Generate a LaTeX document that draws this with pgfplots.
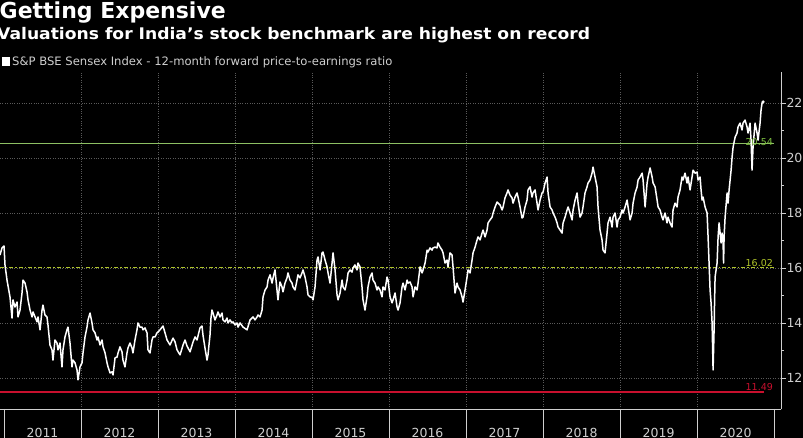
\documentclass[border=0pt]{standalone}
\usepackage{fontspec}
\setmainfont{DejaVu Sans}
\usepackage{graphicx}
\usepackage{pgfplots}
\pgfplotsset{compat=1.18}
\definecolor{gridc}{HTML}{5A5A5A}
\definecolor{axc}{HTML}{CFCFCF}
\definecolor{lblgreen}{HTML}{7FC241}
\definecolor{refgreen}{HTML}{8DBF63}
\definecolor{refyellow}{HTML}{AFC42A}
\definecolor{refred}{HTML}{C8102E}
\pgfplotstableread{
x y
2010.948 16.47
2010.974 16.73
2011.000 16.80
2011.013 16.11
2011.039 15.56
2011.078 14.94
2011.104 14.18
2011.117 14.84
2011.143 14.58
2011.169 14.76
2011.182 14.22
2011.208 14.47
2011.234 15.09
2011.247 15.56
2011.273 15.45
2011.299 15.13
2011.312 14.84
2011.338 14.47
2011.364 14.22
2011.377 14.40
2011.403 14.22
2011.429 14.04
2011.442 14.22
2011.468 13.75
2011.494 14.47
2011.506 14.65
2011.532 14.29
2011.558 14.22
2011.571 13.93
2011.597 13.20
2011.623 13.02
2011.636 12.65
2011.662 13.38
2011.688 13.27
2011.701 13.02
2011.727 13.27
2011.753 12.40
2011.766 13.02
2011.792 13.49
2011.818 13.75
2011.831 13.85
2011.857 13.27
2011.883 12.40
2011.896 12.65
2011.922 12.55
2011.948 12.29
2011.961 11.93
2011.987 12.40
2012.013 12.55
2012.026 12.91
2012.052 13.49
2012.078 13.85
2012.091 14.11
2012.117 14.36
2012.143 14.00
2012.156 13.75
2012.182 13.64
2012.208 13.38
2012.221 13.49
2012.247 13.20
2012.273 13.38
2012.286 13.13
2012.312 12.91
2012.338 12.55
2012.351 12.40
2012.377 12.18
2012.403 12.22
2012.416 12.11
2012.442 12.73
2012.468 12.76
2012.481 12.91
2012.506 13.13
2012.532 12.95
2012.545 12.65
2012.571 12.40
2012.597 12.91
2012.610 13.09
2012.636 13.27
2012.662 13.09
2012.675 12.91
2012.701 13.38
2012.727 13.75
2012.740 14.00
2012.766 13.85
2012.792 13.85
2012.805 13.75
2012.831 13.82
2012.857 13.64
2012.870 13.02
2012.896 12.91
2012.922 13.38
2012.935 13.49
2012.961 13.49
2012.987 13.64
2013.000 13.67
2013.026 13.75
2013.065 13.89
2013.091 13.64
2013.117 13.38
2013.156 13.20
2013.195 13.45
2013.221 13.31
2013.247 13.02
2013.286 12.84
2013.325 13.20
2013.351 13.38
2013.377 13.16
2013.416 12.95
2013.455 13.31
2013.481 13.49
2013.506 13.38
2013.545 13.82
2013.571 13.89
2013.584 13.56
2013.610 13.09
2013.636 12.65
2013.649 12.84
2013.675 13.56
2013.688 14.18
2013.701 14.47
2013.714 14.36
2013.740 14.11
2013.766 14.29
2013.779 14.40
2013.805 14.22
2013.831 14.36
2013.844 14.11
2013.870 14.04
2013.896 14.18
2013.909 14.00
2013.935 14.11
2013.961 14.00
2013.974 14.04
2014.000 13.93
2014.026 14.00
2014.039 13.85
2014.065 14.00
2014.104 13.85
2014.156 13.75
2014.195 14.11
2014.221 14.18
2014.234 14.22
2014.260 14.11
2014.286 14.22
2014.299 14.29
2014.325 14.22
2014.351 14.47
2014.364 14.95
2014.390 15.20
2014.416 15.31
2014.429 15.56
2014.455 15.75
2014.481 15.45
2014.494 15.64
2014.519 15.93
2014.545 15.20
2014.558 14.84
2014.584 15.49
2014.610 15.31
2014.623 15.13
2014.649 15.45
2014.675 15.64
2014.688 15.82
2014.714 15.56
2014.740 15.45
2014.753 15.31
2014.779 15.20
2014.805 15.56
2014.818 15.75
2014.844 15.64
2014.870 15.82
2014.883 15.93
2014.909 15.67
2014.935 15.31
2014.948 15.02
2014.974 14.95
2015.000 14.93
2015.013 14.84
2015.039 15.31
2015.065 16.29
2015.078 16.40
2015.104 15.93
2015.130 16.55
2015.143 16.58
2015.169 16.29
2015.195 16.04
2015.208 15.82
2015.234 15.45
2015.260 16.18
2015.273 16.55
2015.299 15.93
2015.325 15.02
2015.338 14.84
2015.364 15.09
2015.390 15.56
2015.403 15.31
2015.429 15.20
2015.455 15.56
2015.468 15.82
2015.494 15.93
2015.519 15.85
2015.532 16.00
2015.558 16.11
2015.584 15.93
2015.597 16.18
2015.623 16.04
2015.649 15.31
2015.662 14.84
2015.688 14.47
2015.714 14.95
2015.727 15.31
2015.753 15.67
2015.779 15.82
2015.792 15.56
2015.818 15.45
2015.844 15.20
2015.857 15.31
2015.883 15.20
2015.909 14.95
2015.922 15.31
2015.948 15.20
2015.974 15.67
2015.987 15.56
2016.013 14.95
2016.039 14.73
2016.052 14.84
2016.078 15.09
2016.104 14.58
2016.117 14.47
2016.143 14.73
2016.169 15.31
2016.182 15.45
2016.208 15.20
2016.234 15.56
2016.247 15.45
2016.273 15.49
2016.299 15.31
2016.312 14.95
2016.338 15.31
2016.364 15.20
2016.377 15.45
2016.403 16.04
2016.429 15.82
2016.442 15.93
2016.468 16.18
2016.494 16.65
2016.506 16.58
2016.532 16.73
2016.558 16.65
2016.571 16.73
2016.597 16.76
2016.623 16.73
2016.636 16.91
2016.662 16.76
2016.688 16.65
2016.701 16.55
2016.727 16.18
2016.753 16.29
2016.766 16.04
2016.792 16.55
2016.818 16.47
2016.831 16.04
2016.857 15.09
2016.883 15.45
2016.896 15.31
2016.922 15.20
2016.948 14.95
2016.961 14.76
2016.987 15.20
2017.013 15.67
2017.026 15.93
2017.052 15.82
2017.078 16.29
2017.091 16.55
2017.117 16.76
2017.143 17.02
2017.156 17.13
2017.182 17.02
2017.208 17.27
2017.221 17.38
2017.247 17.13
2017.273 17.38
2017.286 17.64
2017.312 17.75
2017.338 17.85
2017.351 18.00
2017.377 18.22
2017.403 18.40
2017.416 18.36
2017.442 18.29
2017.468 18.11
2017.481 18.22
2017.506 18.55
2017.532 18.73
2017.545 18.84
2017.571 18.65
2017.597 18.55
2017.610 18.36
2017.636 18.58
2017.662 18.73
2017.675 18.58
2017.701 18.22
2017.727 17.82
2017.740 17.85
2017.766 18.22
2017.792 18.47
2017.805 18.84
2017.831 18.95
2017.857 18.58
2017.870 18.73
2017.896 18.84
2017.922 18.36
2017.935 18.11
2017.961 18.47
2017.987 18.73
2018.000 18.76
2018.026 19.09
2018.052 19.31
2018.065 18.73
2018.091 18.22
2018.117 18.11
2018.130 18.00
2018.156 17.85
2018.182 17.64
2018.195 17.49
2018.221 17.38
2018.247 17.27
2018.260 17.64
2018.286 17.85
2018.312 18.11
2018.325 18.22
2018.351 18.00
2018.377 17.75
2018.390 18.11
2018.416 18.47
2018.442 18.73
2018.455 18.36
2018.481 17.85
2018.506 18.00
2018.519 18.22
2018.545 18.73
2018.571 18.95
2018.584 19.09
2018.610 19.20
2018.636 19.45
2018.649 19.67
2018.675 19.31
2018.701 18.95
2018.714 18.22
2018.740 17.38
2018.766 17.02
2018.779 16.65
2018.805 16.55
2018.831 17.27
2018.844 17.64
2018.870 17.85
2018.896 17.49
2018.909 17.85
2018.935 18.00
2018.961 17.49
2018.974 17.75
2019.000 17.85
2019.026 18.11
2019.039 18.00
2019.065 18.22
2019.091 18.47
2019.104 18.22
2019.130 17.75
2019.156 18.00
2019.169 18.36
2019.195 18.73
2019.221 18.95
2019.234 19.20
2019.260 19.31
2019.286 19.45
2019.299 19.20
2019.325 18.22
2019.351 19.09
2019.364 19.31
2019.390 19.64
2019.416 19.31
2019.429 19.09
2019.455 18.95
2019.481 18.47
2019.494 18.22
2019.519 18.11
2019.545 17.85
2019.558 17.75
2019.584 18.00
2019.610 17.64
2019.623 17.85
2019.649 17.64
2019.675 17.49
2019.688 18.11
2019.714 18.36
2019.740 18.22
2019.753 18.58
2019.779 18.84
2019.805 19.31
2019.818 19.20
2019.844 19.45
2019.870 19.09
2019.883 19.31
2019.909 18.84
2019.935 19.31
2019.948 19.56
2019.974 19.45
2020.000 19.49
2020.013 19.20
2020.039 19.31
2020.052 18.84
2020.065 18.47
2020.078 18.58
2020.104 18.22
2020.130 18.00
2020.143 17.13
2020.156 16.18
2020.169 15.20
2020.182 14.73
2020.195 14.00
2020.208 12.29
2020.221 13.75
2020.227 14.73
2020.234 15.67
2020.260 16.18
2020.273 17.13
2020.286 17.64
2020.312 16.91
2020.325 17.27
2020.338 16.91
2020.344 16.18
2020.351 17.13
2020.364 17.85
2020.390 18.73
2020.403 18.36
2020.416 18.84
2020.442 19.56
2020.455 20.04
2020.468 20.40
2020.494 20.76
2020.519 20.91
2020.532 21.13
2020.558 21.27
2020.584 21.02
2020.597 21.27
2020.623 21.38
2020.649 21.13
2020.662 20.91
2020.688 21.27
2020.701 20.65
2020.714 19.56
2020.727 20.40
2020.753 21.27
2020.779 20.91
2020.792 20.65
2020.818 21.27
2020.831 21.75
2020.844 22.00
2020.857 22.04
}\petable
\begin{document}
\begin{tikzpicture}
\fill[black] (0pt,0pt) rectangle (803pt,438pt);
\useasboundingbox (0pt,0pt) rectangle (803pt,438pt);
\node[anchor=base west, inner sep=0, text=white, font=\fontsize{22}{26}\selectfont\bfseries] at (-0.5pt,419.5pt) {Getting Expensive};
\node[anchor=base west, inner sep=0, text=white, font=\fontsize{16}{19}\selectfont\bfseries] at (-3pt,398.5pt) {\scalebox{1.072}[1]{Valuations for India's stock benchmark are highest on record}};
\fill[white] (2pt,372pt) rectangle (10pt,381pt);
\node[anchor=base west, inner sep=0, text=axc, font=\fontsize{11.6}{13}\selectfont] at (12pt,372pt) {S\&P BSE Sensex Index - 12-month forward price-to-earnings ratio};
\begin{axis}[
  at={(0pt,29pt)}, anchor=south west, scale only axis,
  width=781pt, height=337pt,
  xmin=2010.948, xmax=2021.09, ymin=10.87, ymax=23.13,
  clip mode=individual,
  axis x line*=bottom, axis y line*=right,
  axis line style={axc, line width=0.8pt},
  xtick={2011.5,2012.5,2013.5,2014.5,2015.5,2016.5,2017.5,2018.5,2019.5,2020.5},
  xticklabels={2011,2012,2013,2014,2015,2016,2017,2018,2019,2020},
  x tick style={draw=none},
  extra x ticks={2012,2013,2014,2015,2016,2017,2018,2019,2020},
  extra x tick labels={},
  extra x tick style={grid=major},
  ytick={12,14,16,18,20,22},
  minor ytick={13,15,17,19,21},
  tick align=outside,
  major tick length=5pt, minor tick length=3pt,
  y tick style={axc, line width=0.7pt},
  ymajorgrids=true,
  major grid style={gridc, dotted, line width=0.7pt},
  /pgf/number format/assume math mode=true,
  ticklabel style={font=\fontsize{12.5}{14}\selectfont, text=axc},
  xticklabel style={yshift=-11pt},
  yticklabel style={xshift=-3pt},
]
\addplot[color=refgreen, no markers, line width=1.1pt] coordinates {(2010.948,20.54) (2021.0,20.54)};
\addplot[color=refyellow, no markers, line width=1.3pt, dash pattern=on 4pt off 2pt on 1.5pt off 2pt] coordinates {(2010.948,16.02) (2021.0,16.02)};
\addplot[color=refred, no markers, line width=1.1pt] coordinates {(2010.948,11.49) (2020.87,11.49)};
\addplot[color=white, no markers, line width=1.5pt, line join=round] table[x=x, y=y] {\petable};
\addplot[white, only marks, mark=*, mark size=1.4pt] coordinates {(2020.857,22.04)};
\pgfplotsinvokeforeach{2011,2012,2013,2014,2015,2016,2017,2018,2019,2020,2021}{
  \draw[axc, line width=0.7pt] (axis cs:#1,10.87) -- ([yshift=-32pt]axis cs:#1,10.87);
}
\node[anchor=south east, inner sep=1pt, text=lblgreen, font=\fontsize{9.5}{11}\selectfont] at (axis cs:2021.0,20.40) {20.54};
\node[anchor=south east, inner sep=1pt, text=refyellow, font=\fontsize{9.5}{11}\selectfont] at (axis cs:2021.0,16.02) {16.02};
\node[anchor=south east, inner sep=1pt, text=refred, font=\fontsize{9.5}{11}\selectfont] at (axis cs:2021.0,11.49) {11.49};
\end{axis}
\end{tikzpicture}
\end{document}
